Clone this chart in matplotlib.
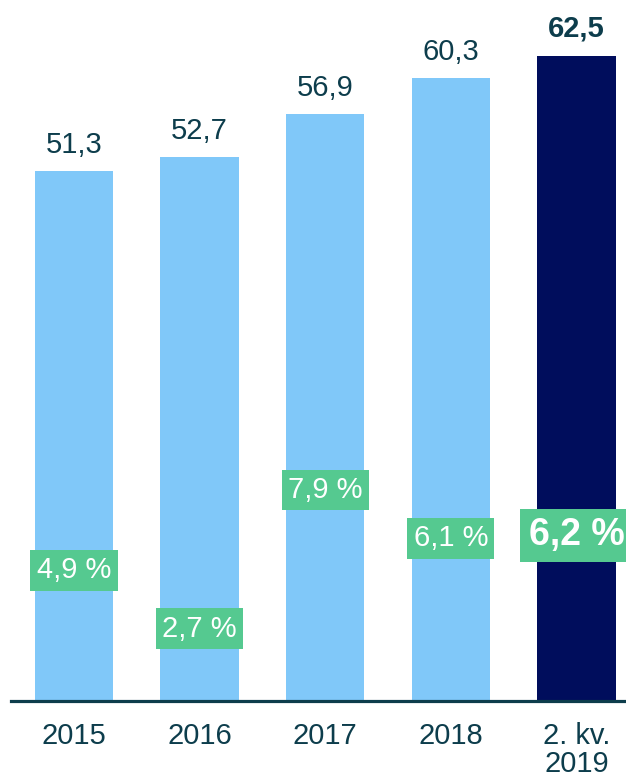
import matplotlib
matplotlib.use("Agg")
import matplotlib.pyplot as plt

# values
categories = ["2015", "2016", "2017", "2018", "2. kv.\n2019"]
values = [51.3, 52.7, 56.9, 60.3, 62.5]
growth = [4.9, 2.7, 7.9, 6.1, 6.2]

TEXT = "#0d3d4c"
LIGHT = "#80c8f9"
DARK = "#000d5c"
GREEN = "#55c990"

plt.rcParams["font.family"] = ["Liberation Sans", "DejaVu Sans"]

fig = plt.figure(figsize=(6.26, 7.8), dpi=100)
ax = fig.add_axes([11 / 626, 79 / 780, 615 / 626, 701 / 780])

x = list(range(len(categories)))
colors = [LIGHT] * (len(values) - 1) + [DARK]
ax.bar(x, values, width=0.625, color=colors, zorder=2)

ax.set_xlim(-0.502, 4.395)
ax.set_ylim(0, 67.9)

for i, v in enumerate(values):
    last = i == len(values) - 1
    ax.annotate(f"{v:.1f}".replace(".", ","), (i, v), xytext=(0, 14 if last else 13),
                textcoords="offset points", ha="center", va="baseline",
                fontsize=21, color=TEXT, fontweight="bold" if last else "normal")

for side in ["top", "left", "right"]:
    ax.spines[side].set_visible(False)
ax.spines["bottom"].set_color(TEXT)
ax.spines["bottom"].set_linewidth(2.3)
ax.spines["bottom"].set_zorder(3)
ax.set_yticks([])
ax.set_xticks(x)
ax.set_xticklabels(categories, fontsize=21, color=TEXT, linespacing=1.02)
ax.tick_params(axis="x", length=0, pad=15)

# growth labels on a hidden second scale
ax2 = ax.twinx()
ax2.set_ylim(0, 701 / 26.7)
ax2.set_axis_off()
for i, g in enumerate(growth):
    last = i == len(growth) - 1
    ax2.text(i, g, f"{g:.1f} %".replace(".", ","), ha="center", va="center",
             fontsize=27 if last else 21, color="white",
             fontweight="bold" if last else "normal", zorder=5,
             bbox=dict(boxstyle="square,pad=0.22", fc=GREEN, ec="none"))

fig.savefig("out.png", dpi=100)
